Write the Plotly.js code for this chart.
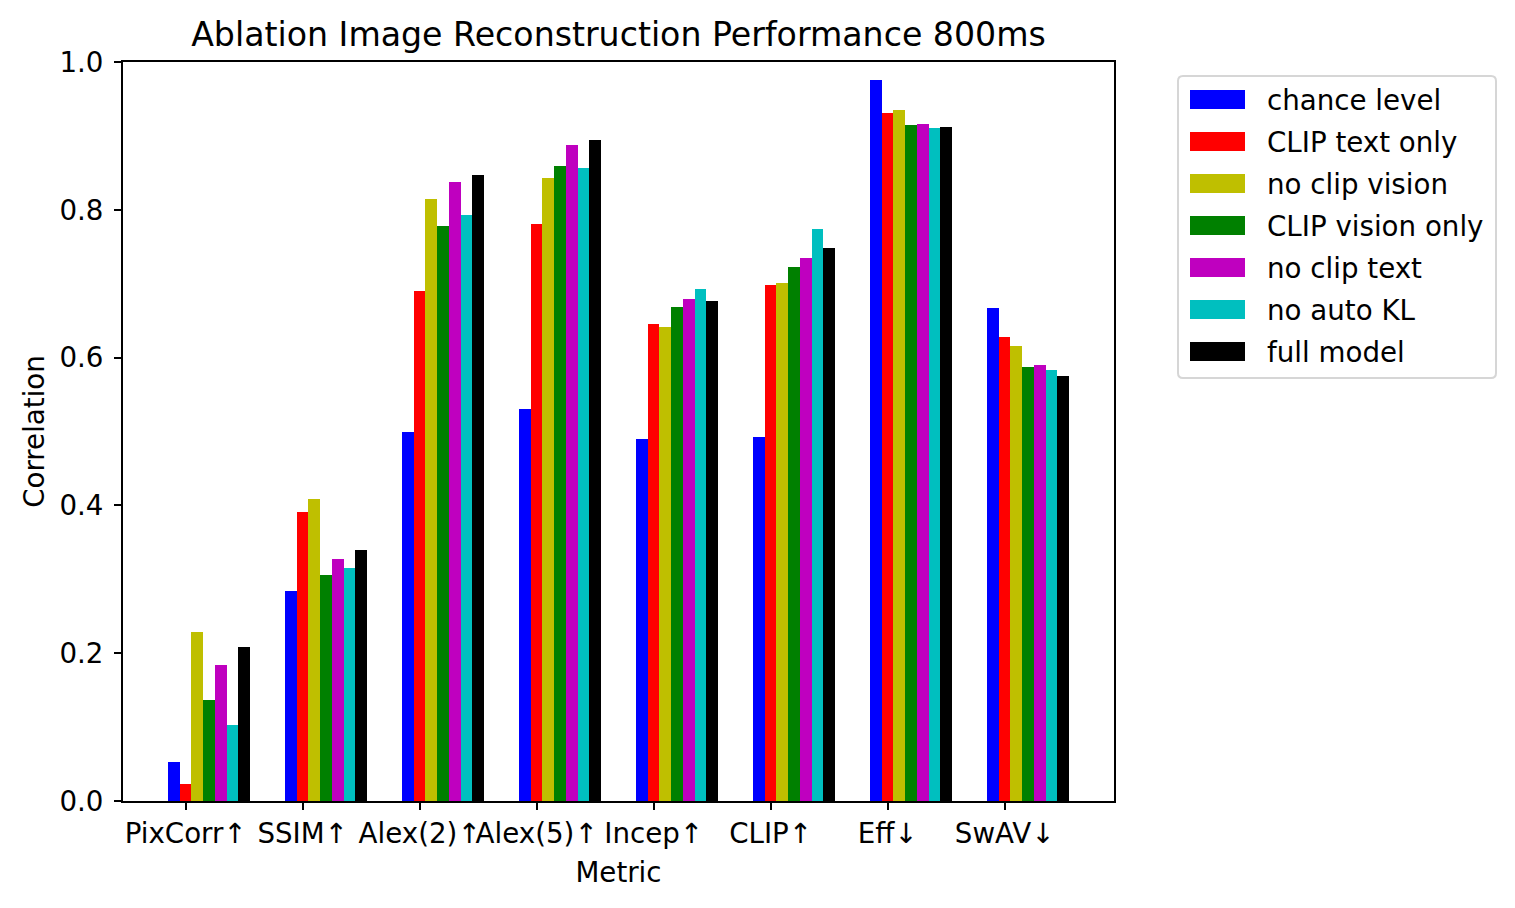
<!DOCTYPE html>
<html>
<head>
<meta charset="utf-8">
<script src="https://cdn.plot.ly/plotly-3.0.1.min.js"></script>
<style>
  html, body { margin: 0; padding: 0; background: #ffffff; }
  #chart { width: 1515px; height: 908px; }
</style>
</head>
<body>
<div id="chart"></div>
<script>
// ---- Data ----
const categories = ["PixCorr\u2191", "SSIM\u2191", "Alex(2)\u2191", "Alex(5)\u2191", "Incep\u2191", "CLIP\u2191", "Eff\u2193", "SwAV\u2193"];

const seriesNames = ["chance level", "CLIP text only", "no clip vision", "CLIP vision only", "no clip text", "no auto KL", "full model"];

const chanceLevel    = [0.053, 0.284, 0.499, 0.530, 0.490, 0.493, 0.976, 0.667];
const clipTextOnly   = [0.023, 0.391, 0.690, 0.781, 0.645, 0.698, 0.931, 0.628];
const noClipVision   = [0.229, 0.409, 0.815, 0.843, 0.641, 0.701, 0.935, 0.616];
const clipVisionOnly = [0.137, 0.306, 0.778, 0.859, 0.668, 0.723, 0.915, 0.587];
const noClipText     = [0.184, 0.327, 0.838, 0.888, 0.679, 0.735, 0.916, 0.590];
const noAutoKL       = [0.103, 0.315, 0.793, 0.857, 0.693, 0.774, 0.911, 0.583];
const fullModel      = [0.208, 0.340, 0.847, 0.894, 0.677, 0.748, 0.912, 0.575];

const yTickVals = [0.0, 0.2, 0.4, 0.6, 0.8, 1.0];

// ---- Styling ----
const seriesValues = [chanceLevel, clipTextOnly, noClipVision, clipVisionOnly, noClipText, noAutoKL, fullModel];
const colors = ["#0000ff", "#ff0000", "#bfbf00", "#008000", "#bf00bf", "#00bfbf", "#000000"];
const barWidth = 0.1;
const FONT = "DejaVu Sans, Liberation Sans, sans-serif";
const FS = 27.7;

const traces = seriesValues.map((vals, k) => ({
  type: "bar",
  name: seriesNames[k],
  x: categories,
  y: vals,
  width: barWidth,
  offset: -0.15 + barWidth * k,
  marker: { color: colors[k], line: { width: 0 } },
  showlegend: false,
  hoverinfo: "x+y+name"
}));

// Plot area geometry (pixels) used for the custom legend
const L = 123, R = 1515 - 1114, T = 62, B = 908 - 801;
const PW = 1515 - L - R, PH = 908 - T - B;
const px = (x) => (x - L) / PW;
const py = (y) => (908 - B - y) / PH;

const shapes = [];
const annotations = [];

// legend frame (rounded)
(function () {
  const x0 = 1178, x1 = 1496, y0 = 76, y1 = 378, r = 5;
  const X = (v) => px(v), Y = (v) => py(v);
  const path =
    `M ${X(x0 + r)},${Y(y0)} L ${X(x1 - r)},${Y(y0)} Q ${X(x1)},${Y(y0)} ${X(x1)},${Y(y0 + r)} ` +
    `L ${X(x1)},${Y(y1 - r)} Q ${X(x1)},${Y(y1)} ${X(x1 - r)},${Y(y1)} ` +
    `L ${X(x0 + r)},${Y(y1)} Q ${X(x0)},${Y(y1)} ${X(x0)},${Y(y1 - r)} ` +
    `L ${X(x0)},${Y(y0 + r)} Q ${X(x0)},${Y(y0)} ${X(x0 + r)},${Y(y0)} Z`;
  shapes.push({
    type: "path", xref: "paper", yref: "paper", path: path,
    line: { color: "#d6d6d6", width: 2 }, fillcolor: "rgba(255,255,255,0.8)", layer: "above"
  });
})();

seriesNames.forEach((name, k) => {
  const cy = 99.5 + 42 * k;
  shapes.push({
    type: "rect", xref: "paper", yref: "paper",
    x0: px(1190), x1: px(1245), y0: py(cy + 9.5), y1: py(cy - 9.5),
    fillcolor: colors[k], line: { width: 0 }, layer: "above"
  });
  annotations.push({
    xref: "paper", yref: "paper", x: px(1265), y: py(cy + 1),
    xanchor: "left", yanchor: "middle", showarrow: false,
    text: name, font: { family: FONT, size: FS, color: "#000000" }
  });
});

const layout = {
  width: 1515,
  height: 908,
  margin: { l: L, r: R, t: T, b: B, pad: 0 },
  paper_bgcolor: "#ffffff",
  plot_bgcolor: "#ffffff",
  font: { family: FONT, size: FS, color: "#000000" },
  title: {
    text: "Ablation Image Reconstruction Performance 800ms",
    font: { family: FONT, size: 33.2, color: "#000000" },
    x: 0.5, xref: "paper", xanchor: "center",
    y: 1 - 34 / 908, yref: "container", yanchor: "middle"
  },
  barmode: "overlay",
  bargap: 0,
  showlegend: false,
  xaxis: {
    type: "category",
    range: [-0.535, 7.935],
    tickangle: 0,
    showline: true, mirror: true, linecolor: "#000000", linewidth: 2,
    ticks: "outside", ticklen: 7, tickwidth: 2, tickcolor: "#000000",
    showgrid: false, zeroline: false,
    tickfont: { family: FONT, size: FS, color: "#000000" },
    title: { text: "Metric", font: { family: FONT, size: FS, color: "#000000" }, standoff: 13 },
    automargin: false
  },
  yaxis: {
    range: [0, 1],
    tickvals: yTickVals,
    tickformat: ".1f",
    showline: true, mirror: true, linecolor: "#000000", linewidth: 2,
    ticks: "outside", ticklen: 7, tickwidth: 2, tickcolor: "#000000",
    ticklabelstandoff: 5,
    showgrid: false, zeroline: false,
    tickfont: { family: FONT, size: FS, color: "#000000" },
    title: { text: "Correlation", font: { family: FONT, size: FS, color: "#000000" }, standoff: 7 },
    automargin: false
  },
  shapes: shapes,
  annotations: annotations
};

Plotly.newPlot("chart", traces, layout, { displayModeBar: false, staticPlot: true });
</script>
</body>
</html>
